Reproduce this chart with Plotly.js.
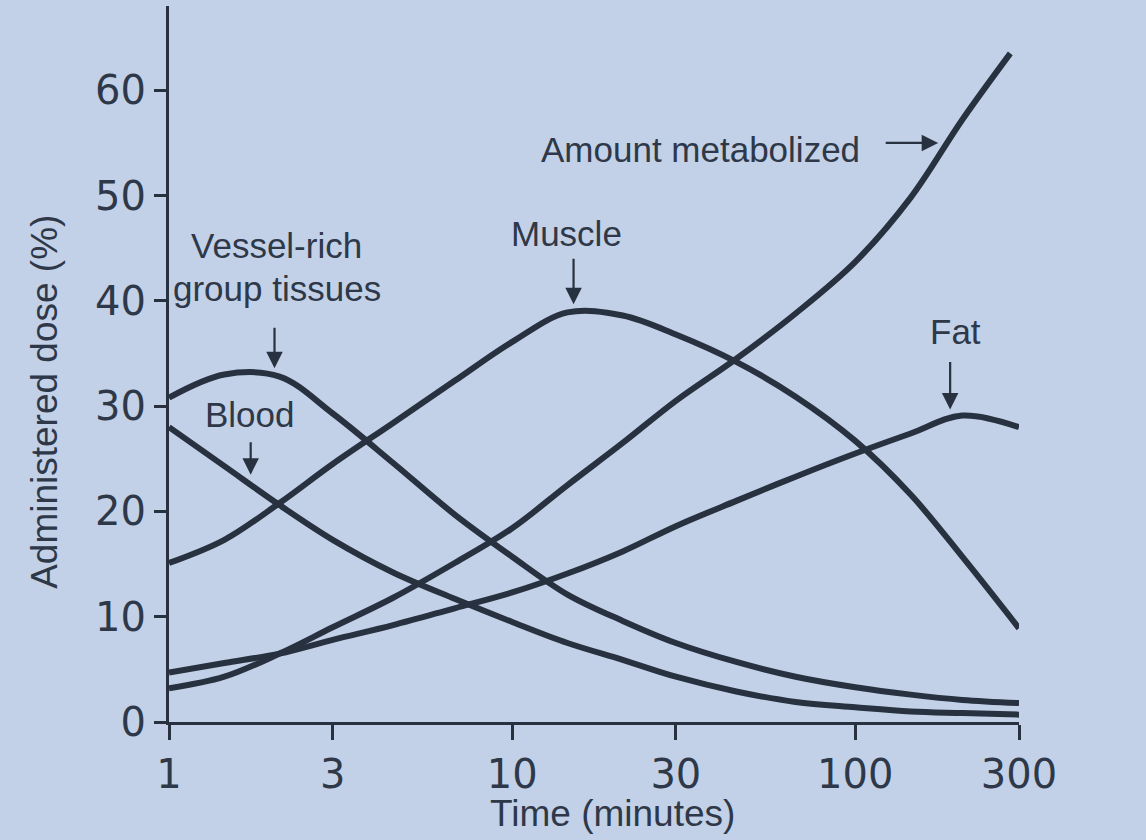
<!DOCTYPE html>
<html>
<head>
<meta charset="utf-8">
<script src="https://cdn.plot.ly/plotly-3.0.1.min.js"></script>
<style>
html,body{margin:0;padding:0;background:#c2d1e7;}
#chart{width:1146px;height:840px;}
</style>
</head>
<body>
<div id="chart"></div>
<script>
// Time in minutes (log axis)
const times      = [1, 1.45, 2.1, 3, 4.5, 6.8, 10, 14.5, 21, 30, 45, 67, 100, 145, 205, 300];
const metabTimes = [1, 1.45, 2.1, 3, 4.5, 6.8, 10, 14.5, 21, 30, 45, 67, 100, 145, 205, 283];

// Administered dose (%)
const vesselRich  = [30.8, 33.0, 32.8, 29.3, 24.6, 19.7, 15.7, 12.1, 9.6, 7.5, 5.7, 4.3, 3.3, 2.6, 2.1, 1.8];
const blood       = [28.0, 24.3, 20.6, 17.3, 14.2, 11.7, 9.5, 7.5, 5.9, 4.3, 2.9, 1.9, 1.4, 1.0, 0.85, 0.7];
const muscle      = [15.1, 17.3, 20.8, 24.5, 28.4, 32.4, 36.1, 38.9, 38.6, 36.8, 34.2, 30.9, 26.7, 21.6, 15.7, 8.9];
const fat         = [4.7, 5.6, 6.5, 7.8, 9.2, 10.8, 12.3, 14.1, 16.2, 18.6, 21.0, 23.3, 25.5, 27.4, 29.1, 28.0];
const metabolized = [3.2, 4.3, 6.5, 9.0, 11.8, 15.1, 18.4, 22.5, 26.5, 30.5, 34.5, 38.8, 43.7, 49.8, 57.2, 63.5];

const xTickVals = [1, 3, 10, 30, 100, 300];
const xTickText = ["1", "3", "10", "30", "100", "300"];
const yTickVals = [0, 10, 20, 30, 40, 50, 60];

const INK = '#28313f';
const TXT = '#2e3848';
const BG = '#c2d1e7';
const FONT = 'Liberation Sans, Arial, sans-serif';
const TICKFONT = 'DejaVu Sans, Liberation Sans, sans-serif';

function curve(name, x, y) {
  return {
    type: 'scatter', mode: 'lines', name: name, x: x, y: y,
    line: {color: INK, width: 6, shape: 'spline', smoothing: 1},
    hoverinfo: 'name+x+y'
  };
}

const data = [
  curve('Vessel-rich group tissues', times, vesselRich),
  curve('Blood', times, blood),
  curve('Muscle', times, muscle),
  curve('Fat', times, fat),
  curve('Amount metabolized', metabTimes, metabolized)
];

function label(text, xp, yp, size, angle) {
  return {text: text, xref: 'paper', yref: 'paper', x: xp, y: yp,
    showarrow: false, xanchor: 'center', yanchor: 'middle',
    textangle: angle || 0,
    font: {family: FONT, size: size || 35, color: TXT}};
}
function arrow(xv, yv, ax, ay) {
  return {text: '', x: Math.log10(xv), y: yv, xref: 'x', yref: 'y',
    showarrow: true, ax: ax, ay: ay, arrowhead: 2, arrowsize: 1.5,
    arrowwidth: 2.2, arrowcolor: INK, standoff: 3, startstandoff: 0};
}

const layout = {
  width: 1146, height: 840,
  margin: {l: 169, r: 127, t: 6, b: 118},
  paper_bgcolor: BG, plot_bgcolor: BG,
  showlegend: false,
  font: {family: FONT, color: TXT, size: 35},
  xaxis: {
    type: 'log', range: [0, Math.log10(300)],
    tickvals: xTickVals, ticktext: xTickText,
    ticks: 'outside', ticklen: 15, tickwidth: 3, tickcolor: INK,
    showline: true, linewidth: 3, linecolor: INK,
    showgrid: false, zeroline: false,
    tickfont: {family: TICKFONT, size: 40, color: TXT}
  },
  yaxis: {
    range: [0, 68], tickvals: yTickVals,
    ticks: 'outside', ticklen: 12, tickwidth: 3, tickcolor: INK,
    showline: true, linewidth: 3, linecolor: INK,
    showgrid: false, zeroline: false,
    tickfont: {family: TICKFONT, size: 40, color: TXT}
  },
  annotations: [
    label('Time (minutes)', 0.522, -0.128, 37),
    label('Administered dose (%)', -0.146, 0.447, 37, -90),
    label('Vessel-rich', 0.126, 0.665),
    label('group tissues', 0.127, 0.606),
    label('Blood', 0.095, 0.429),
    label('Muscle', 0.468, 0.682),
    label('Amount metabolized', 0.625, 0.799),
    label('Fat', 0.925, 0.545),
    arrow(2.03, 33.3, 0, -45),
    arrow(1.73, 23.2, 0, -37),
    arrow(15.1, 39.4, 0, -50),
    arrow(189, 29.4, 0, -52),
    arrow(178, 55.0, -57, 0)
  ]
};

Plotly.newPlot('chart', data, layout, {displayModeBar: false, staticPlot: true});
</script>
</body>
</html>
